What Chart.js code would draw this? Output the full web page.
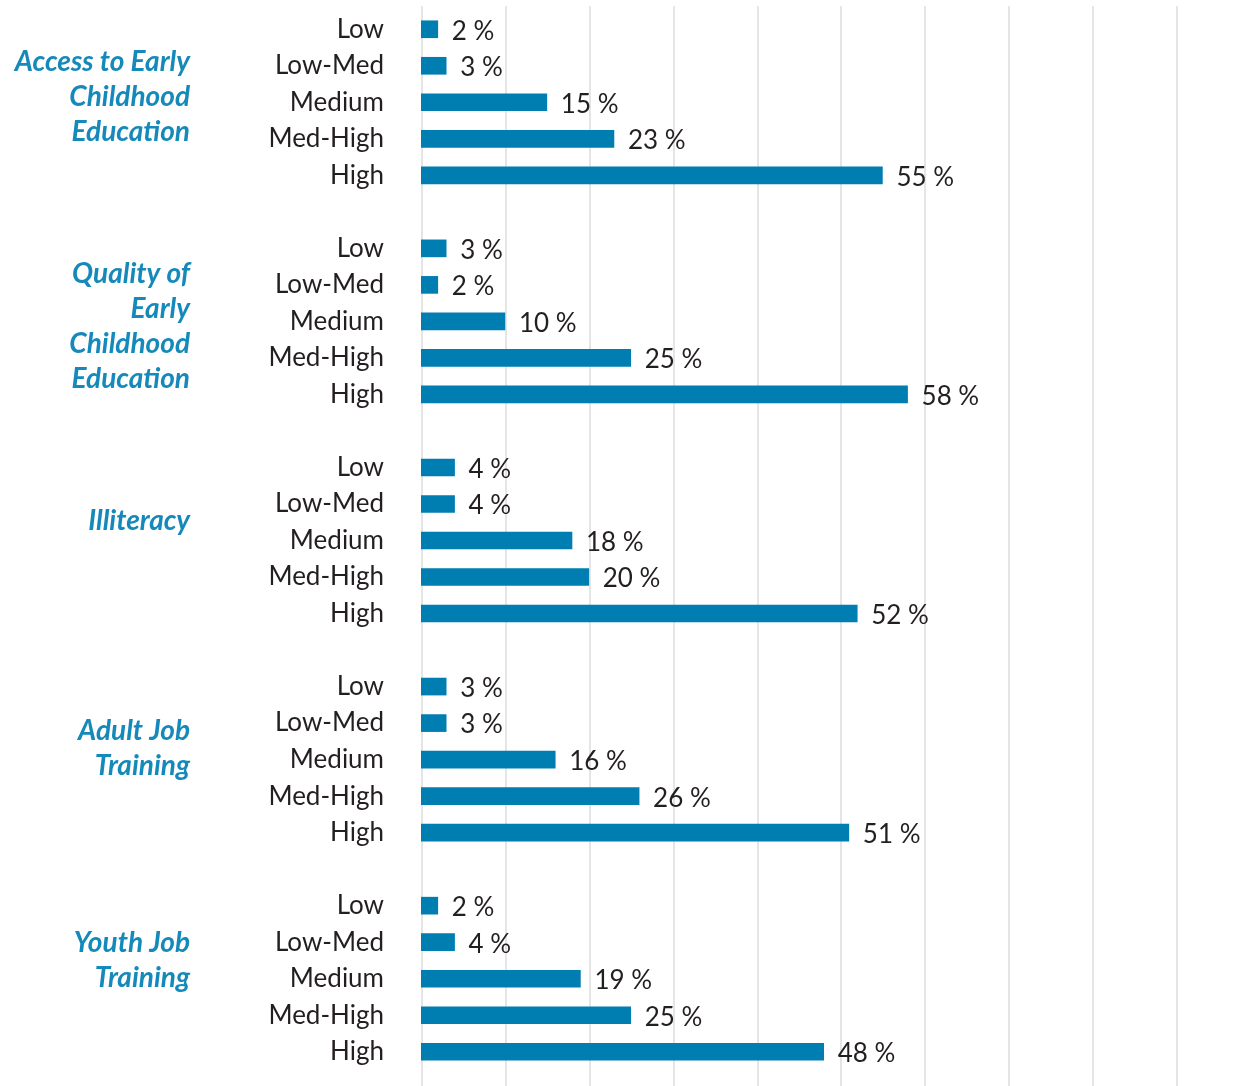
<!DOCTYPE html>
<html>
<head>
<meta charset="utf-8">
<script src="https://cdn.jsdelivr.net/npm/chart.js@4.4.1/dist/chart.umd.min.js"></script>
<style>
html,body{margin:0;padding:0;background:#fff;}
#wrap{width:1256px;height:1086px;position:relative;}
</style>
</head>
<body>
<div id="wrap"><canvas id="c" width="1256" height="1086"></canvas></div>
<script>
// ---- data ----
const levels = ["Low", "Low-Med", "Medium", "Med-High", "High"];
const groupNames = [
  ["Access to Early", "Childhood", "Education"],
  ["Quality of", "Early", "Childhood", "Education"],
  ["Illiteracy"],
  ["Adult Job", "Training"],
  ["Youth Job", "Training"]
];
const accessECE  = [2, 3, 15, 23, 55];
const qualityECE = [3, 2, 10, 25, 58];
const illiteracy = [4, 4, 18, 20, 52];
const adultJob   = [3, 3, 16, 26, 51];
const youthJob   = [2, 4, 19, 25, 48];
const xTicks = [0, 10, 20, 30, 40, 50, 60, 70, 80, 90];

// ---- layout constants (not data) ----
const groupLabelShift = [-5, 5, -20, -11, -18]; // px shift of group titles
const BLUE = "#007db1";
const TITLE_BLUE = "#1589ba";
const TEXT = "#231f20";
const FONT = "Lato, 'Open Sans', sans-serif";

// build rows: groups separated by empty row
const series = [accessECE, qualityECE, illiteracy, adultJob, youthJob];
const labels = [];
const values = [];
series.forEach((s, g) => {
  if (g > 0) { labels.push(""); values.push(null); }
  levels.forEach((l, i) => { labels.push(l); values.push(s[i]); });
});

const gridPlugin = {
  id: "fullGrid",
  beforeDatasetsDraw(chart) {
    const ctx = chart.ctx, xs = chart.scales.x;
    ctx.save();
    ctx.strokeStyle = "#e5e5e5";
    ctx.lineWidth = 2;
    xTicks.forEach(t => {
      const x = Math.round(xs.getPixelForValue(t)) + 1;
      ctx.beginPath();
      ctx.moveTo(x, 6);
      ctx.lineTo(x, chart.height);
      ctx.stroke();
    });
    ctx.restore();
  }
};

const labelPlugin = {
  id: "valueLabels",
  afterDatasetsDraw(chart) {
    const ctx = chart.ctx;
    const meta = chart.getDatasetMeta(0);
    ctx.save();
    ctx.font = "26px " + FONT;
    ctx.fillStyle = TEXT;
    ctx.textAlign = "left";
    ctx.textBaseline = "middle";
    meta.data.forEach((bar, i) => {
      const v = values[i];
      if (v == null) return;
      ctx.fillText(v + " %", bar.x + 14, bar.y + 2);
    });
    // group titles
    const ys = chart.scales.y;
    ctx.font = "italic 700 28px " + FONT;
    ctx.fillStyle = TITLE_BLUE;
    ctx.textAlign = "right";
    const lh = 35;
    groupNames.forEach((lines, g) => {
      const mid = ys.getPixelForValue(g * 6 + 2) + groupLabelShift[g];
      const start = mid - (lines.length - 1) * lh / 2;
      lines.forEach((t, k) => ctx.fillText(t, 190, start + k * lh));
    });
    ctx.restore();
  }
};

new Chart(document.getElementById("c"), {
  type: "bar",
  data: {
    labels: labels,
    datasets: [{
      data: values,
      backgroundColor: BLUE,
      barThickness: 17,
      borderWidth: 0
    }]
  },
  options: {
    indexAxis: "y",
    responsive: false,
    animation: false,
    layout: { padding: { top: 11, bottom: 16, left: 0, right: 80 } },
    plugins: { legend: { display: false }, tooltip: { enabled: false } },
    scales: {
      x: {
        display: false,
        min: 0, max: 90,
        afterBuildTicks: s => { s.ticks = xTicks.map(v => ({ value: v })); },
        grid: { display: false },
        border: { display: false },
        ticks: { display: false }
      },
      y: {
        grid: { display: false, drawTicks: false },
        border: { display: false },
        afterFit: s => { s.width = 421; s.paddingTop = 0; s.paddingBottom = 0; },
        ticks: {
          autoSkip: false,
          padding: 37,
          color: TEXT,
          font: { family: FONT, size: 26 }
        }
      }
    }
  },
  plugins: [gridPlugin, labelPlugin]
});
</script>
</body>
</html>
